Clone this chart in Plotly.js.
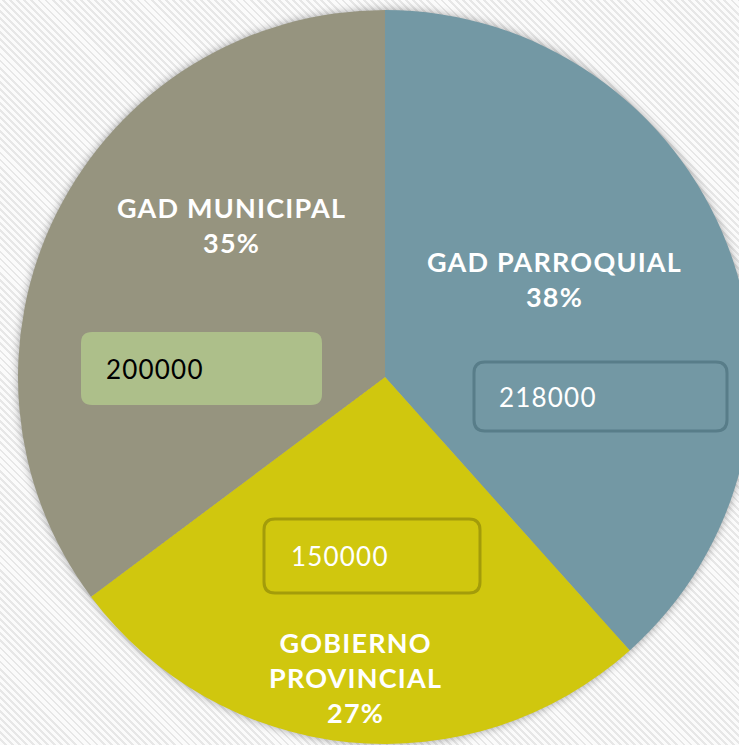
<!DOCTYPE html>
<html>
<head>
<meta charset="utf-8">
<script src="https://cdn.plot.ly/plotly-3.0.1.min.js"></script>
<style>
  html, body { margin: 0; padding: 0; width: 739px; height: 745px; overflow: hidden; }
  body {
    background: repeating-linear-gradient(45deg, #fbfbfb 0px, #fbfbfb 3px, #e7e7e7 3px, #e7e7e7 5px);
  }
  #chart { position: absolute; left: 18px; top: 10px; width: 734px; height: 734px; }
  .svg-container > svg.main-svg:first-of-type { filter: drop-shadow(0 0 4px rgba(0,0,0,0.35)); }
  .annotation-text { letter-spacing: 1.2px; }
</style>
</head>
<body>
<div id="chart"></div>
<script>
// ---- data ----
const categories = ['GAD PARROQUIAL', 'GOBIERNO PROVINCIAL', 'GAD MUNICIPAL'];
const labelLines = [['GAD PARROQUIAL'], ['GOBIERNO', 'PROVINCIAL'], ['GAD MUNICIPAL']];
const values = [218000, 150000, 200000];
const pctLabels = ['38%', '27%', '35%'];
const sliceColors = ['#7398a4', '#d0c70e', '#96947f'];

// ---- geometry helpers (pixel -> paper) ----
const OX = 18, OY = 10, S = 734;
const X = v => ((v - OX) / S);
const Y = v => (1 - (v - OY) / S);
function rr(x0, y0, x1, y1, r) {
  const f = n => n.toFixed(5);
  const a = (x, y) => f(X(x)) + ',' + f(Y(y));
  return 'M' + a(x0 + r, y0) + ' L' + a(x1 - r, y0) + ' Q' + a(x1, y0) + ' ' + a(x1, y0 + r) +
         ' L' + a(x1, y1 - r) + ' Q' + a(x1, y1) + ' ' + a(x1 - r, y1) +
         ' L' + a(x0 + r, y1) + ' Q' + a(x0, y1) + ' ' + a(x0, y1 - r) +
         ' L' + a(x0, y0 + r) + ' Q' + a(x0, y0) + ' ' + a(x0 + r, y0) + ' Z';
}

// label block centers (pixels) and value box layout
const labelPos = [[554, 279], [355, 677], [232, 225]];
const boxes = [
  {x0: 474, y0: 362, x1: 727, y1: 431, fill: 'rgba(0,0,0,0)', line: '#587d89', lw: 3, tx: 497, txt: '#ffffff'},
  {x0: 264, y0: 519, x1: 480, y1: 593, fill: 'rgba(0,0,0,0)', line: '#a39c0a', lw: 3, tx: 289, txt: '#ffffff'},
  {x0: 81,  y0: 332, x1: 322, y1: 405, fill: '#adbf8a', line: 'rgba(0,0,0,0)', lw: 0, tx: 104, txt: '#000000'}
];

const trace = {
  type: 'pie',
  labels: categories,
  values: values,
  sort: false,
  direction: 'clockwise',
  rotation: 0,
  marker: { colors: sliceColors, line: { width: 0 } },
  textinfo: 'none',
  hoverinfo: 'none',
  showlegend: false,
  domain: { x: [0, 1], y: [0, 1] }
};

const shapes = boxes.map(b => ({
  type: 'path', xref: 'paper', yref: 'paper', layer: 'above',
  path: rr(b.x0, b.y0, b.x1, b.y1, 11),
  fillcolor: b.fill,
  line: { color: b.line, width: b.lw }
}));

const annotations = [];
categories.forEach((c, i) => {
  const txt = labelLines[i].map(s => '<b>' + s + '</b>').join('<br>') + '<br><b>' + pctLabels[i] + '</b>';
  annotations.push({
    xref: 'paper', yref: 'paper', x: X(labelPos[i][0]), y: Y(labelPos[i][1]),
    xanchor: 'center', yanchor: 'middle', showarrow: false, align: 'center',
    text: txt, font: { family: 'Lato, sans-serif', size: 27, color: '#ffffff' }
  });
  const b = boxes[i];
  annotations.push({
    xref: 'paper', yref: 'paper', x: X(b.tx), y: Y((b.y0 + b.y1) / 2),
    xanchor: 'left', yanchor: 'middle', showarrow: false,
    text: String(values[i]), font: { family: 'Lato, sans-serif', size: 26, color: b.txt }
  });
});

const layout = {
  width: 734, height: 734,
  margin: { l: 0, r: 0, t: 0, b: 0, pad: 0 },
  paper_bgcolor: 'rgba(0,0,0,0)',
  plot_bgcolor: 'rgba(0,0,0,0)',
  showlegend: false,
  shapes: shapes,
  annotations: annotations
};

Plotly.newPlot('chart', [trace], layout, { displayModeBar: false, staticPlot: true });
</script>
</body>
</html>
